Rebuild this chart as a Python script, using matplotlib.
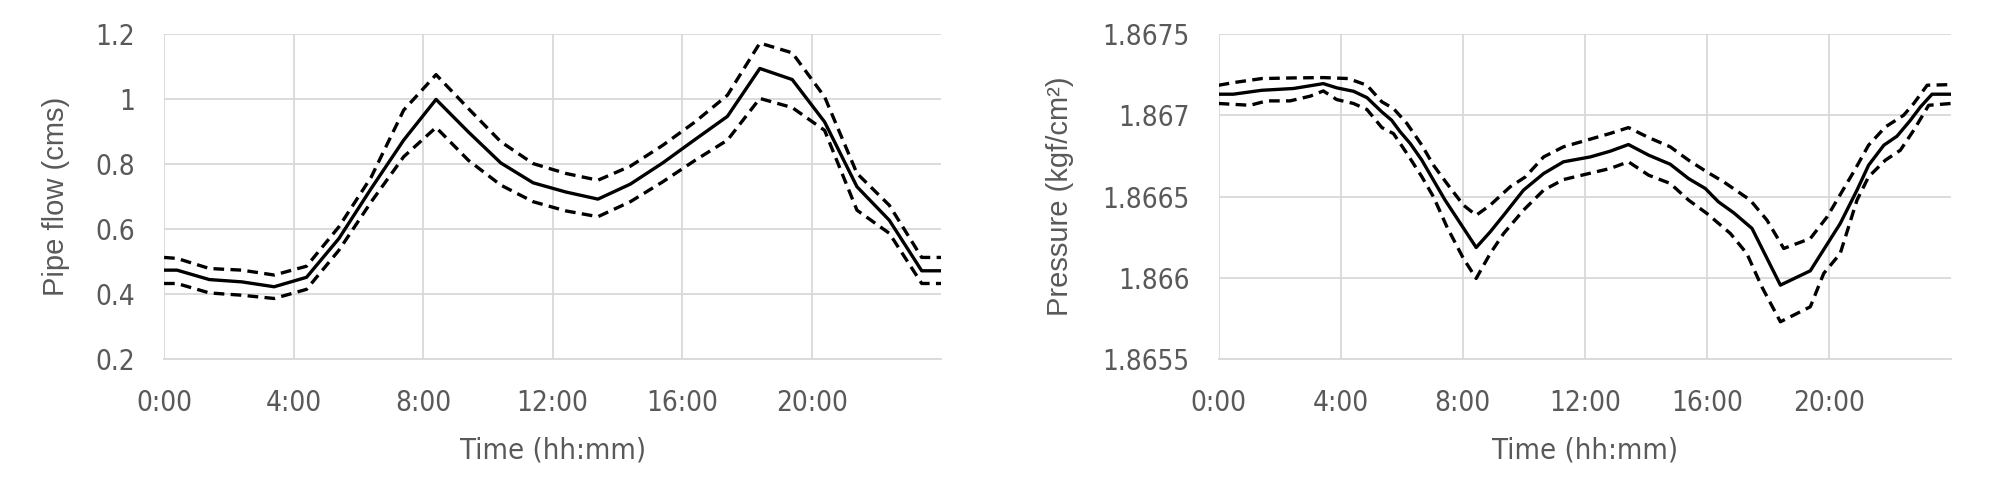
import matplotlib
matplotlib.use("Agg")
import matplotlib.pyplot as plt
from matplotlib.ticker import FuncFormatter

# pipe flow (left panel), hours of day
flow_hours = [0, 0.4, 1.4, 2.4, 3.4, 4.4, 5.4, 6.4, 7.4, 8.4, 9.4, 10.4, 11.4,
              12.4, 13.4, 14.4, 15.4, 16.4, 17.4, 18.4, 19.4, 20.4, 21.4, 22.4, 23.4, 24]
flow_mean = [0.474, 0.474, 0.445, 0.438, 0.423, 0.452, 0.571, 0.725, 0.873, 0.998, 0.898, 0.803, 0.742,
             0.714, 0.692, 0.738, 0.803, 0.875, 0.946, 1.093, 1.059, 0.929, 0.730, 0.627, 0.472, 0.472]
flow_upper = [0.513, 0.510, 0.479, 0.474, 0.459, 0.486, 0.607, 0.760, 0.965, 1.074, 0.970, 0.868, 0.801,
              0.771, 0.750, 0.793, 0.857, 0.929, 1.011, 1.171, 1.141, 1.006, 0.771, 0.673, 0.513, 0.513]
flow_lower = [0.433, 0.433, 0.404, 0.397, 0.387, 0.415, 0.535, 0.684, 0.822, 0.912, 0.811, 0.735, 0.684,
              0.656, 0.638, 0.684, 0.745, 0.811, 0.873, 1.001, 0.973, 0.903, 0.658, 0.587, 0.433, 0.433]

# pressure (right panel)
pres_mean_hours = [0, 0.48, 1.41, 2.45, 3.43, 3.87, 4.42, 4.86, 5.35, 5.67, 5.95, 6.28, 6.66, 7.04, 7.42,
                   8.44, 8.9, 9.34, 9.99, 10.65, 11.3, 12.18, 12.83, 13.43, 14.09, 14.8, 15.4, 15.95,
                   16.38, 16.88, 17.48, 18.41, 19.39, 20.37, 20.92, 21.3, 21.8, 22.23, 22.67, 23.0, 23.38, 24]
pres_mean = [1.867128, 1.867128, 1.867152, 1.867163, 1.867193, 1.867167, 1.867146, 1.867107, 1.867019,
             1.866968, 1.866897, 1.866825, 1.866723, 1.866600, 1.866478, 1.866187, 1.866283, 1.866385,
             1.866539, 1.866641, 1.866713, 1.866743, 1.866778, 1.866819, 1.866754, 1.866698, 1.866610,
             1.866549, 1.866467, 1.866400, 1.866304, 1.865956, 1.866044, 1.866334, 1.866539, 1.866692,
             1.866815, 1.866870, 1.866968, 1.867050, 1.867128, 1.867128]
pres_upper_hours = [0, 0.48, 1.41, 2.45, 3.43, 4.25, 4.86, 5.35, 5.73, 6.17, 6.66, 7.04, 7.48, 8.02, 8.44,
                    8.9, 9.55, 10.05, 10.65, 11.3, 12.83, 13.43, 14.09, 14.8, 15.4, 16.0, 16.55, 17.42,
                    17.97, 18.52, 19.39, 19.94, 20.81, 21.3, 21.85, 22.45, 22.78, 23.22, 24]
pres_upper = [1.867183, 1.867199, 1.867224, 1.867228, 1.867230, 1.867224, 1.867183, 1.867081, 1.867040,
              1.866948, 1.866815, 1.866692, 1.866580, 1.866447, 1.866385, 1.866447, 1.866559, 1.866620,
              1.866743, 1.866805, 1.866887, 1.866923, 1.866862, 1.866805, 1.866723, 1.866651, 1.866590,
              1.866478, 1.866355, 1.866181, 1.866242, 1.866375, 1.866651, 1.866815, 1.866927, 1.866999,
              1.867071, 1.867183, 1.867187]
pres_lower_hours = [0, 1.03, 1.58, 2.34, 3.0, 3.43, 3.87, 4.42, 4.86, 5.35, 5.73, 6.17, 6.66, 7.04, 7.48,
                    8.02, 8.44, 8.9, 9.34, 9.99, 10.65, 11.3, 12.83, 13.43, 14.09, 14.8, 15.4, 16.0,
                    16.77, 17.31, 17.8, 18.41, 19.39, 19.83, 20.37, 20.92, 21.3, 21.85, 22.34, 22.78,
                    23.27, 24]
pres_lower = [1.867071, 1.867060, 1.867087, 1.867087, 1.867116, 1.867148, 1.867095, 1.867071, 1.867034,
              1.866923, 1.866886, 1.866764, 1.866621, 1.866498, 1.866314, 1.866120, 1.865997, 1.866150,
              1.866273, 1.866416, 1.866539, 1.866604, 1.866672, 1.866713, 1.866631, 1.866580, 1.866478,
              1.866396, 1.866273, 1.866150, 1.865946, 1.865731, 1.865823, 1.866028, 1.866150, 1.866478,
              1.866621, 1.866723, 1.866784, 1.866907, 1.867060, 1.867071]

time_ticks = [0, 4, 8, 12, 16, 20]
time_labels = ["0:00", "4:00", "8:00", "12:00", "16:00", "20:00"]
flow_ticks = [0.2, 0.4, 0.6, 0.8, 1.0, 1.2]
pres_ticks = [1.8655, 1.866, 1.8665, 1.867, 1.8675]

grey = "#595959"
grid_col = "#d9d9d9"


def excel_general(v, pos):
    # Excel "General" number format drops trailing zeros
    return f"{v:.4f}".rstrip("0").rstrip(".")


def style_axis(ax, yticks, ylabel, label_x):
    ax.set_xlim(0, 24)
    ax.set_xticks(time_ticks)
    ax.set_xticklabels(time_labels)
    ax.set_yticks(yticks)
    ax.set_ylim(yticks[0], yticks[-1])
    ax.yaxis.set_major_formatter(FuncFormatter(excel_general))
    ax.grid(True, color=grid_col, linewidth=1.3)
    ax.set_axisbelow(True)
    for side in ["top", "right", "left"]:
        ax.spines[side].set_visible(False)
    ax.spines["bottom"].set_color(grid_col)
    ax.spines["bottom"].set_linewidth(1.3)
    ax.tick_params(length=0, colors=grey, labelsize=20)
    ax.tick_params(axis="x", pad=21)
    ax.tick_params(axis="y", pad=21)
    for lab in ax.get_xticklabels() + ax.get_yticklabels():
        lab.set_fontstretch("condensed")
    ax.set_xlabel("Time (hh:mm)", color=grey, fontsize=21, fontstretch="condensed", labelpad=14)
    ax.set_ylabel(ylabel, color=grey, fontsize=21, family="Liberation Sans")
    ax.yaxis.set_label_coords(label_x, 0.5)


fig = plt.figure(figsize=(20.08, 4.87), dpi=100)
ax1 = fig.add_axes([0.0817, 0.262, 0.387, 0.669])
ax2 = fig.add_axes([0.6069, 0.262, 0.3647, 0.669])

dash = (3.2, 1.9)
ax1.plot(flow_hours, flow_mean, color="black", lw=2.4)
ax1.plot(flow_hours, flow_upper, color="black", lw=2.4, dashes=dash)
ax1.plot(flow_hours, flow_lower, color="black", lw=2.4, dashes=dash)
style_axis(ax1, flow_ticks, "Pipe flow (cms)", -0.121)

ax2.plot(pres_mean_hours, pres_mean, color="black", lw=2.4)
ax2.plot(pres_upper_hours, pres_upper, color="black", lw=2.4, dashes=dash)
ax2.plot(pres_lower_hours, pres_lower, color="black", lw=2.4, dashes=dash)
style_axis(ax2, pres_ticks, "Pressure (kgf/cm²)", -0.197)

fig.savefig("out.png", dpi=100)
